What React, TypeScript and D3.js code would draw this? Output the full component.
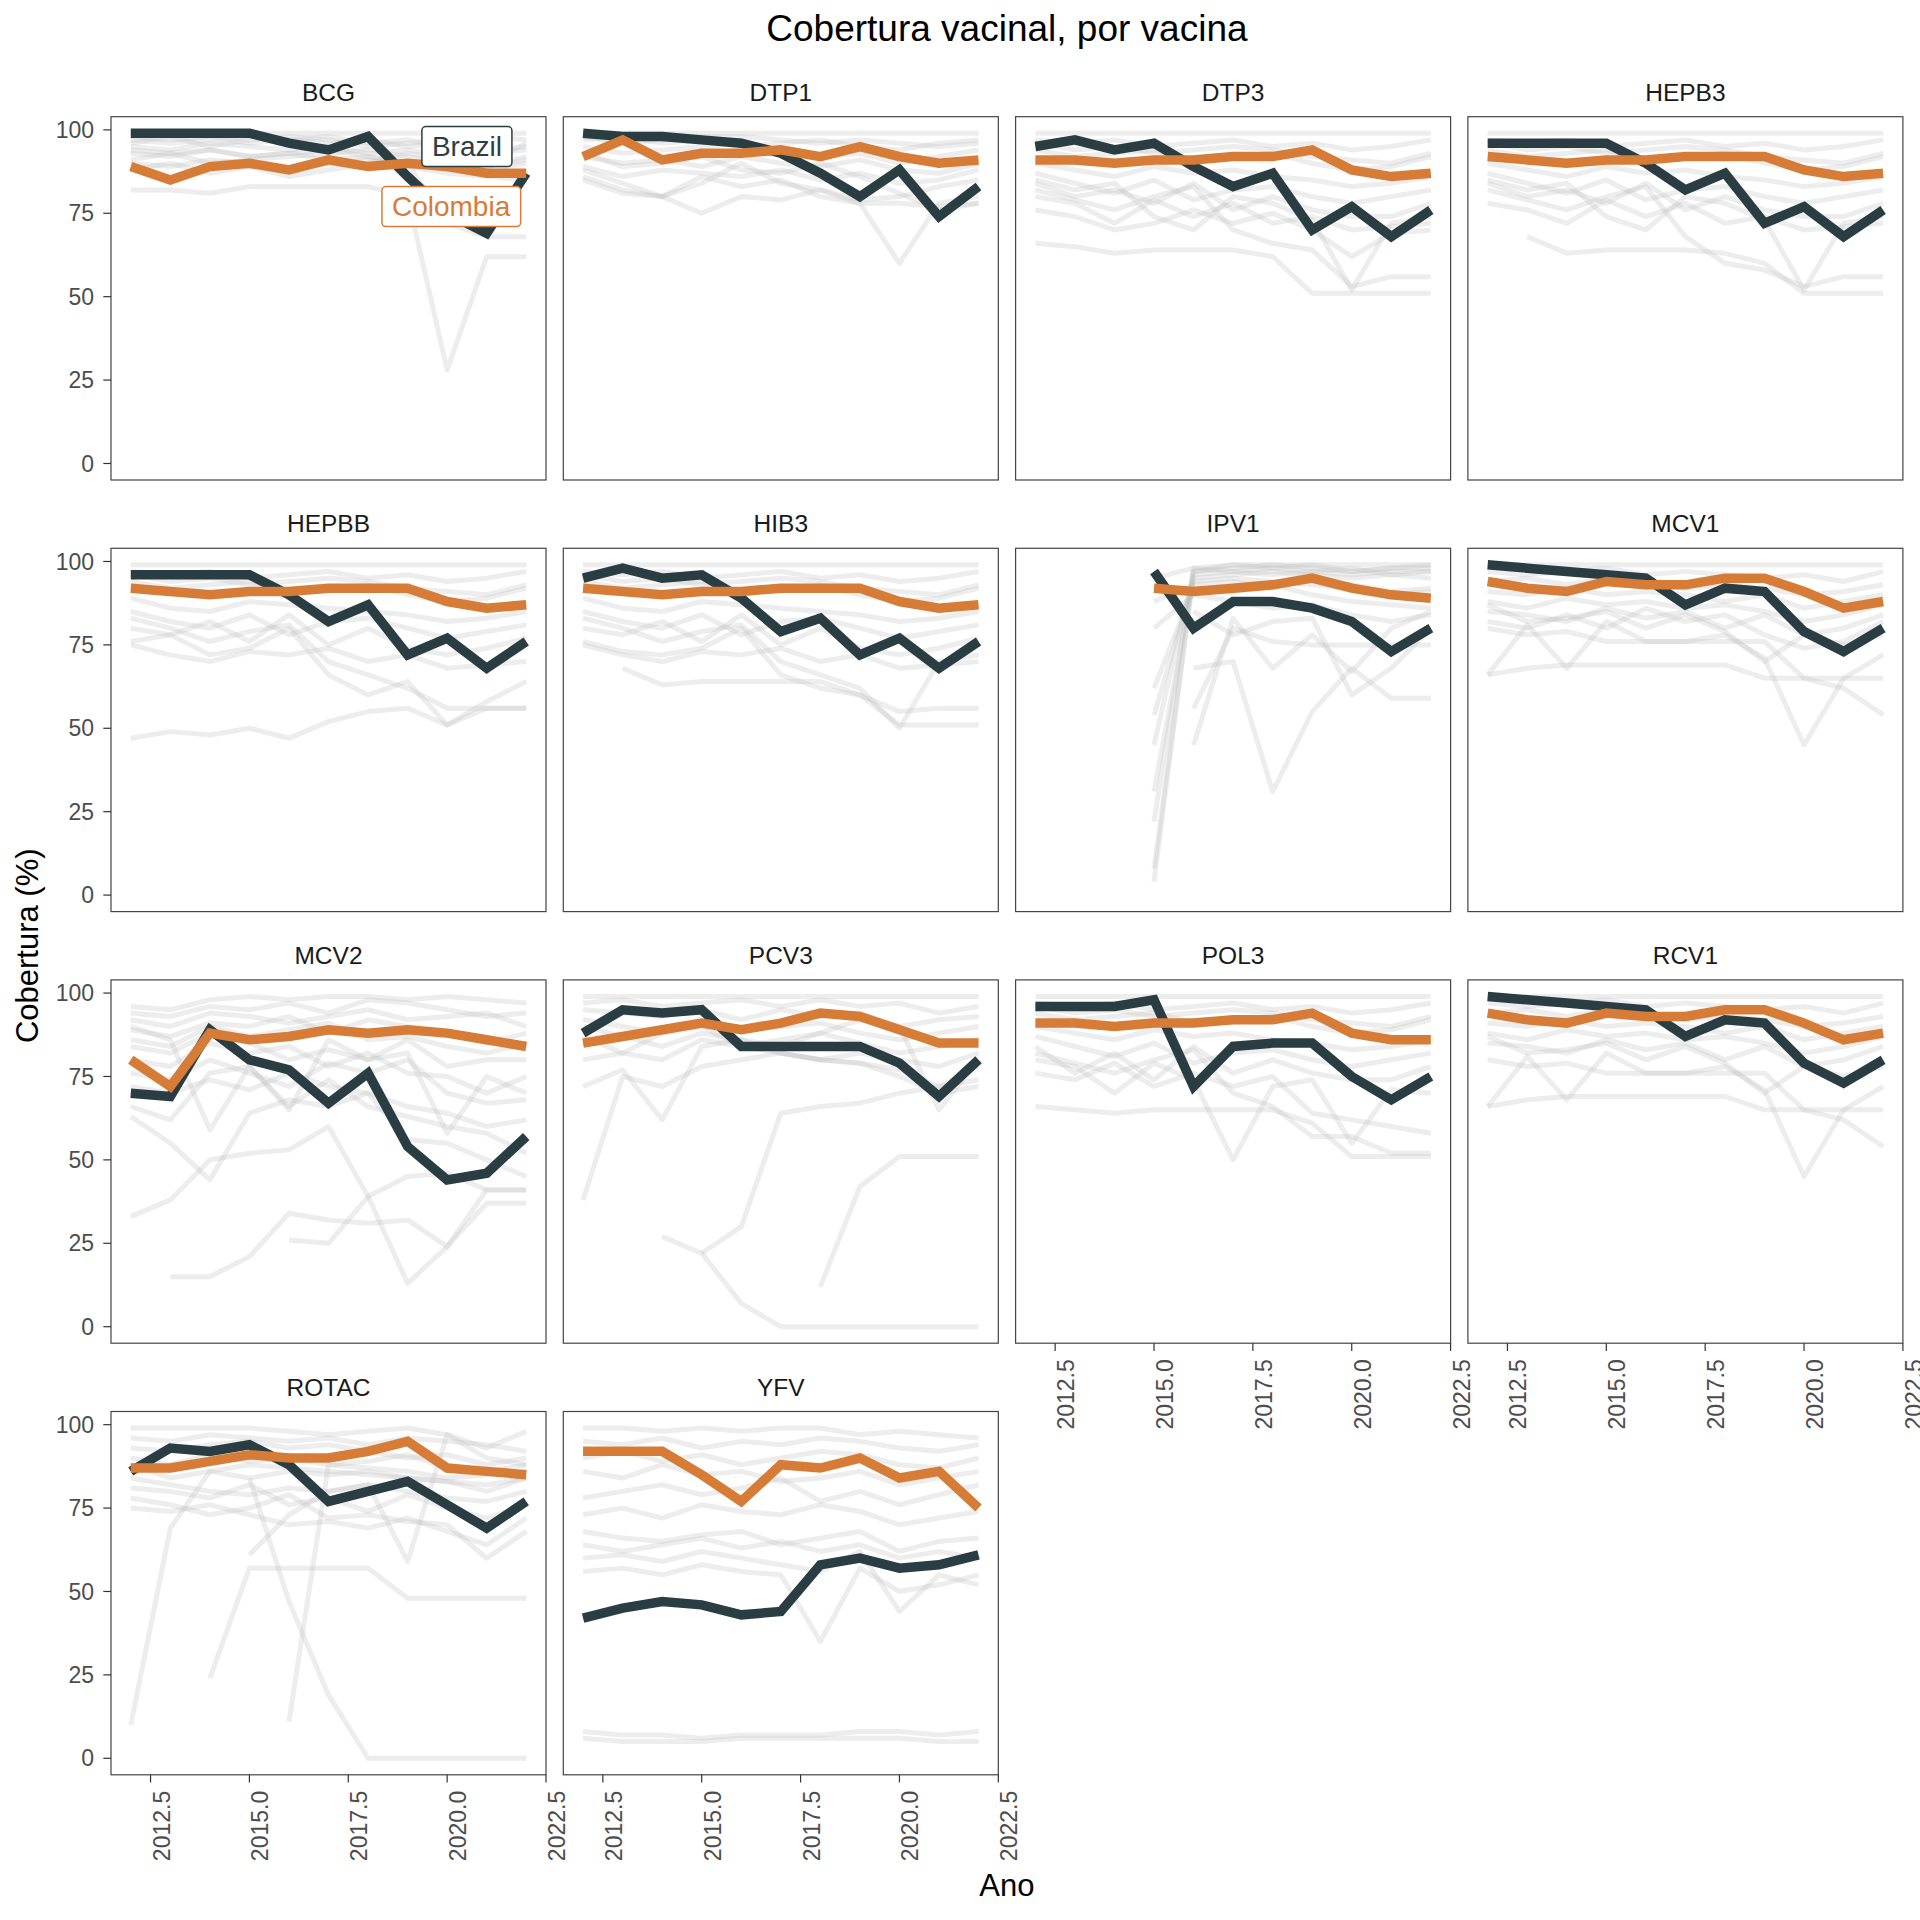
import React, { useEffect, useRef } from "react";
import * as d3 from "d3";

// anos e vacinas
const years = [2012, 2013, 2014, 2015, 2016, 2017, 2018, 2019, 2020, 2021, 2022];
const vaccines = ["BCG", "DTP1", "DTP3", "HEPB3", "HEPBB", "HIB3", "IPV1", "MCV1", "MCV2", "PCV3", "POL3", "RCV1", "ROTAC", "YFV"];
const yTicks = [0, 25, 50, 75, 100];
const xTicks = [2012.5, 2015.0, 2017.5, 2020.0, 2022.5];

// Brazil, same order as vaccines
const brazil: (number | null)[][] = [
  [99, 99, 99, 99, 96, 94, 98, 86, 75, 69, 87],
  [99, 98, 98, 97, 96, 93, 87, 80, 88, 74, 83],
  [95, 97, 94, 96, 89, 83, 87, 70, 77, 68, 76],
  [96, 96, 96, 96, 90, 82, 87, 72, 77, 68, 76],
  [96, 96, 96, 96, 90, 82, 87, 72, 77, 68, 76],
  [95, 98, 95, 96, 89, 79, 83, 72, 77, 68, 76],
  [null, null, null, 97, 80, 88, 88, 86, 82, 73, 80],
  [99, 98, 97, 96, 95, 87, 92, 91, 79, 73, 80],
  [70, 69, 89, 80, 77, 67, 76, 54, 44, 46, 57],
  [88, 95, 94, 95, 84, 84, 84, 84, 79, 69, 80],
  [96, 96, 96, 98, 72, 84, 85, 85, 75, 68, 75],
  [99, 98, 97, 96, 95, 87, 92, 91, 79, 73, 80],
  [86, 93, 92, 94, 88, 77, 80, 83, 76, 69, 77],
  [42, 45, 47, 46, 43, 44, 58, 60, 57, 58, 61],
];

// Colombia, same order as vaccines
const colombia: (number | null)[][] = [
  [89, 85, 89, 90, 88, 91, 89, 90, 89, 87, 87],
  [92, 97, 91, 93, 93, 94, 92, 95, 92, 90, 91],
  [91, 91, 90, 91, 91, 92, 92, 94, 88, 86, 87],
  [92, 91, 90, 91, 91, 92, 92, 92, 88, 86, 87],
  [92, 91, 90, 91, 91, 92, 92, 92, 88, 86, 87],
  [92, 91, 90, 91, 91, 92, 92, 92, 88, 86, 87],
  [null, null, null, 92, 91, 92, 93, 95, 92, 90, 89],
  [94, 92, 91, 94, 93, 93, 95, 95, 91, 86, 88],
  [80, 72, 88, 86, 87, 89, 88, 89, 88, 86, 84],
  [85, 87, 89, 91, 89, 91, 94, 93, 89, 85, 85],
  [91, 91, 90, 91, 91, 92, 92, 94, 88, 86, 86],
  [94, 92, 91, 94, 93, 93, 95, 95, 91, 86, 88],
  [87, 87, 89, 91, 90, 90, 92, 95, 87, 86, 85],
  [92, 92, 92, 85, 77, 88, 87, 90, 84, 86, 75],
];

// other countries (grey)
const greyBCG = [
  [99, 99, 99, 99, 99, 99, 99, 99, 99, 99, 99],
  [97, 96, 97, 98, 97, 96, 97, 95, 96, 93, 94],
  [95, 94, 96, 95, 94, 95, 93, 94, 92, 90, 96],
  [93, 92, 94, 92, 93, 91, 92, 90, 88, 89, 91],
  [91, 93, 90, 91, 92, 93, 94, 92, 90, 88, 90],
  [88, 90, 87, 89, 86, 88, 90, 93, 91, 89, 92],
  [96, 98, 95, 97, 98, 97, 95, 96, 97, 98, 97],
  [82, 82, 81, 83, 83, 83, 83, 80, 28, 62, 62],
  [94, 93, 94, 92, 93, 94, 92, 90, 72, 68, 68],
  [90, 89, 91, 90, 88, 90, 91, 89, 87, 86, 85],
  [98, 97, 98, 96, 97, 98, 96, 97, 95, 94, 95],
];
const greyDTP1 = [
  [99, 99, 99, 99, 99, 99, 99, 99, 99, 99, 99],
  [97, 98, 96, 97, 95, 96, 97, 95, 94, 96, 97],
  [95, 93, 94, 95, 96, 94, 92, 93, 90, 92, 94],
  [92, 90, 91, 89, 92, 90, 89, 91, 88, 87, 90],
  [89, 86, 88, 87, 86, 88, 85, 87, 84, 85, 88],
  [86, 82, 80, 84, 90, 84, 82, 79, 80, 83, 85],
  [85, 81, 80, 75, 80, 79, 82, 78, 60, 78, 80],
  [88, 84, 80, 86, 83, 85, 80, 78, 78, 77, 78],
  [93, 89, 90, 92, 88, 87, 90, 86, 81, 76, 78],
  [98, 96, 97, 98, 98, 97, 96, 97, 96, 95, 96],
];
const greyDTP3 = [
  [99, 99, 99, 99, 99, 99, 99, 99, 99, 99, 99],
  [97, 96, 97, 95, 96, 97, 95, 96, 94, 95, 97],
  [94, 92, 93, 94, 91, 92, 93, 90, 88, 89, 92],
  [90, 88, 86, 89, 87, 88, 86, 85, 83, 84, 86],
  [87, 84, 81, 85, 79, 82, 83, 80, 78, 80, 82],
  [84, 80, 82, 78, 84, 76, 80, 76, 74, 74, 78],
  [80, 78, 72, 79, 74, 78, 72, 74, 70, 71, 72],
  [76, 74, 70, 72, 76, 72, 75, 70, 62, 69, 70],
  [66, 65, 63, 64, 64, 64, 62, 51, 51, 51, 51],
  [82, 79, 76, 80, 83, 70, 66, 64, 53, 56, 56],
  [85, 82, 84, 74, 70, 80, 78, 73, 52, 72, 74],
  [96, 94, 95, 93, 94, 95, 94, 92, 91, 90, 93],
];
const greyHEPB3 = [
  [99, 99, 99, 99, 99, 99, 99, 99, 99, 99, 99],
  [97, 96, 97, 95, 96, 97, 95, 96, 94, 95, 97],
  [94, 92, 93, 94, 91, 92, 93, 90, 88, 89, 92],
  [90, 88, 86, 89, 87, 88, 86, 85, 83, 84, 86],
  [87, 84, 81, 85, 79, 82, 83, 80, 78, 80, 82],
  [84, 80, 82, 78, 84, 76, 80, 76, 74, 74, 78],
  [78, 76, 72, 79, 74, 78, 72, 74, 70, 71, 72],
  [null, 68, 63, 64, 64, 64, 63, 60, 51, 51, 51],
  [82, 79, 76, 80, 83, 68, 60, 58, 53, 56, 56],
  [85, 82, 84, 74, 70, 80, 78, 73, 52, 72, 74],
  [96, 94, 95, 93, 94, 95, 94, 92, 91, 90, 93],
];
const greyHEPBB = [
  [99, 99, 99, 99, 99, 99, 99, 99, 99, 99, 99],
  [97, 96, 97, 95, 96, 97, 95, 96, 94, 95, 97],
  [94, 92, 93, 94, 91, 92, 93, 90, 88, 89, 92],
  [89, 86, 85, 88, 87, 86, 85, 84, 82, 83, 85],
  [85, 82, 80, 84, 78, 82, 83, 80, 77, 79, 81],
  [80, 78, 82, 76, 84, 75, 80, 74, 72, 74, 77],
  [76, 78, 72, 74, 80, 66, 60, 64, 51, 58, 64],
  [75, 72, 70, 73, 72, 74, 70, 72, 68, 69, 70],
  [47, 49, 48, 50, 47, 52, 55, 56, 51, 56, 56],
  [83, 80, 76, 79, 81, 70, 66, 62, 56, 56, 56],
  [96, 94, 95, 93, 94, 95, 94, 92, 91, 90, 93],
];
const greyHIB3 = [
  [99, 99, 99, 99, 99, 99, 99, 99, 99, 99, 99],
  [97, 96, 97, 95, 96, 97, 95, 96, 94, 95, 97],
  [94, 92, 93, 94, 91, 92, 93, 90, 88, 89, 92],
  [89, 86, 85, 88, 87, 86, 85, 84, 82, 83, 85],
  [85, 82, 80, 84, 78, 82, 83, 80, 77, 79, 81],
  [80, 78, 82, 76, 84, 75, 80, 74, 72, 74, 77],
  [76, 73, 72, 74, 80, 66, 62, 60, 51, 51, 51],
  [75, 72, 70, 73, 72, 74, 70, 72, 68, 69, 70],
  [null, 68, 63, 64, 64, 64, 64, 60, 55, 56, 56],
  [83, 80, 76, 79, 81, 70, 66, 62, 50, 70, 72],
  [96, 94, 95, 93, 94, 95, 94, 92, 91, 90, 93],
];
const greyIPV1 = [
  [null, null, null, 4, 97, 98, 99, 98, 97, 98, 98],
  [null, null, null, 8, 96, 97, 98, 97, 96, 97, 97],
  [null, null, null, 22, 98, 97, 96, 97, 98, 96, 97],
  [null, null, null, 31, 95, 96, 97, 96, 95, 96, 95],
  [null, null, null, 45, 97, 99, 98, 99, 97, 98, 99],
  [null, null, null, 54, 94, 95, 94, 93, 92, 90, 91],
  [null, null, null, 62, 92, 91, 93, 90, 88, 87, 86],
  [null, null, null, 80, 90, 88, 86, 87, 84, 82, 84],
  [null, null, null, 88, 93, 94, 92, 95, 93, 91, 92],
  [null, null, null, 95, 98, 99, 99, 99, 99, 99, 99],
  [null, null, null, null, 68, 70, 31, 55, 68, 59, 59],
  [null, null, null, null, 45, 83, 68, 78, 67, 80, 85],
  [null, null, null, null, 56, 80, 76, 75, 75, 75, 75],
  [null, null, null, null, 85, 78, 82, 83, 60, 68, 80],
];
const greyMCV1 = [
  [99, 99, 99, 99, 99, 99, 99, 99, 99, 99, 99],
  [97, 96, 97, 98, 96, 97, 96, 95, 96, 94, 97],
  [94, 95, 93, 95, 94, 92, 93, 92, 90, 91, 93],
  [91, 90, 92, 90, 91, 90, 88, 90, 86, 88, 90],
  [88, 86, 89, 87, 88, 86, 87, 85, 82, 84, 87],
  [85, 84, 82, 86, 83, 85, 80, 84, 78, 80, 84],
  [82, 80, 84, 80, 86, 82, 84, 78, 74, 76, 82],
  [66, 68, 69, 69, 69, 69, 69, 65, 65, 65, 65],
  [66, 81, 68, 82, 76, 76, 76, 76, 65, 62, 54],
  [80, 78, 79, 76, 76, 76, 78, 71, 45, 65, 72],
  [87, 82, 83, 85, 80, 84, 79, 70, 78, 75, 78],
];
const greyMCV2 = [
  [96, 95, 98, 99, 98, 99, 99, 98, 99, 98, 97],
  [94, 93, 96, 95, 97, 94, 98, 97, 95, 93, 94],
  [92, 90, 94, 93, 91, 93, 95, 92, 93, 94, 90],
  [89, 87, 91, 90, 93, 88, 92, 90, 88, 85, 88],
  [86, 84, 90, 87, 89, 91, 86, 87, 84, 82, 85],
  [84, 82, 88, 85, 80, 83, 80, 86, 78, 80, 80],
  [80, 78, 85, 82, 84, 78, 82, 76, 75, 70, 75],
  [76, 74, 80, 76, 72, 79, 76, 80, 70, 67, 68],
  [72, 70, 74, 71, 76, 72, 70, 66, 64, 60, 62],
  [66, 62, 76, 78, 66, 74, 66, 63, 60, 58, 52],
  [63, 55, 44, 64, 68, 66, 70, 56, 55, 50, 45],
  [33, 38, 50, 52, 53, 60, 39, 13, 24, 41, 41],
  [null, 15, 15, 21, 34, 32, 31, 32, 24, 37, 37],
  [null, null, null, null, 26, 25, 39, 45, 46, 41, 41],
  [90, 86, 59, 78, 65, 86, 80, 82, 58, 75, 70],
];
const greyPCV3 = [
  [99, 99, 99, 99, 99, 99, 99, 99, 99, 99, 99],
  [97, 98, 96, 97, 98, 96, 98, 96, 97, 94, 96],
  [95, 94, 93, 95, 92, 95, 93, 94, 90, 92, 93],
  [92, 90, 88, 91, 89, 90, 91, 88, 86, 88, 90],
  [90, 87, 84, 88, 86, 84, 88, 85, 82, 84, 86],
  [87, 82, 80, 86, 84, 82, 80, 82, 80, 78, 82],
  [38, 75, 72, 78, 80, 82, 80, 79, 77, 72, 74],
  [72, 77, 62, 84, 86, 82, 80, 79, 75, 70, 72],
  [null, null, 27, 22, 7, 0, 0, 0, 0, 0, 0],
  [null, null, null, 22, 30, 64, 66, 67, 70, 72, 78],
  [null, null, null, null, null, null, 12, 42, 51, 51, 51],
  [80, 82, 88, 90, 84, 86, 88, 92, 90, 65, 80],
];
const greyPOL3 = [
  [99, 99, 99, 99, 99, 99, 99, 99, 99, 99, 99],
  [97, 96, 97, 95, 96, 97, 95, 96, 94, 95, 97],
  [94, 92, 93, 94, 91, 92, 93, 90, 88, 89, 92],
  [90, 88, 86, 89, 87, 88, 86, 85, 83, 84, 86],
  [87, 84, 81, 85, 79, 82, 83, 80, 78, 80, 82],
  [84, 76, 82, 74, 84, 76, 80, 76, 74, 74, 78],
  [80, 78, 70, 79, 74, 50, 72, 74, 55, 71, 70],
  [76, 74, 79, 72, 76, 72, 75, 64, 62, 60, 58],
  [66, 65, 64, 65, 65, 65, 65, 61, 51, 51, 51],
  [82, 79, 76, 80, 83, 70, 66, 57, 57, 52, 52],
  [96, 94, 95, 93, 94, 95, 94, 92, 91, 90, 93],
];
const greyRCV1 = [
  [99, 99, 99, 99, 99, 99, 99, 99, 99, 99, 99],
  [97, 96, 97, 98, 96, 97, 96, 95, 96, 94, 97],
  [94, 95, 93, 95, 94, 92, 93, 92, 90, 91, 93],
  [91, 90, 92, 90, 91, 90, 88, 90, 86, 88, 90],
  [88, 86, 89, 87, 88, 86, 87, 85, 82, 84, 87],
  [85, 84, 82, 86, 83, 85, 80, 84, 78, 80, 84],
  [66, 68, 69, 69, 69, 69, 69, 65, 65, 65, 65],
  [66, 81, 68, 82, 76, 76, 76, 76, 65, 62, 54],
  [80, 78, 79, 76, 76, 76, 78, 71, 45, 65, 72],
  [87, 82, 83, 85, 80, 84, 79, 70, 78, 75, 78],
];
const greyROTAC = [
  [99, 99, 99, 99, 98, 97, 98, 99, 97, 93, 98],
  [96, 95, 97, 96, 95, 96, 94, 96, 95, 94, 92],
  [93, 92, 94, 95, 93, 94, 92, 90, 91, 88, 90],
  [90, 88, 91, 89, 90, 88, 89, 91, 87, 86, 88],
  [88, 84, 86, 84, 86, 85, 86, 84, 83, 80, 84],
  [84, 82, 80, 79, 81, 80, 82, 80, 78, 77, 80],
  [81, 80, 78, 82, 76, 78, 74, 79, 75, 72, 76],
  [78, 76, 73, 75, 79, 72, 73, 71, 70, 60, 68],
  [75, 74, 76, 73, 70, 71, 69, 72, 68, 64, 72],
  [10, 69, 86, 88, 87, 86, 85, 84, 83, 82, 84],
  [null, null, 24, 57, 57, 57, 57, 48, 48, 48, 48],
  [null, null, null, 84, 47, 19, 0, 0, 0, 0, 0],
  [null, null, null, null, 11, 88, 87, 86, 84, 85, 86],
  [null, null, null, 61, 73, 80, 82, 59, 97, 90, 88],
];
const greyYFV = [
  [99, 99, 98, 99, 98, 99, 99, 97, 98, 97, 96],
  [95, 94, 96, 93, 95, 94, 96, 95, 93, 92, 94],
  [90, 92, 89, 91, 88, 90, 92, 91, 88, 87, 90],
  [86, 84, 88, 85, 86, 83, 84, 86, 82, 84, 86],
  [78, 80, 82, 79, 81, 84, 77, 80, 76, 79, 82],
  [73, 75, 72, 76, 74, 73, 76, 74, 70, 72, 74],
  [68, 66, 65, 67, 68, 64, 66, 68, 62, 65, 66],
  [64, 62, 64, 66, 63, 65, 62, 64, 60, 62, 60],
  [60, 61, 59, 62, 60, 58, 56, 62, 44, 55, 52],
  [56, 57, 55, 58, 56, 55, 35, 57, 50, 52, 55],
  [8, 7, 7, 6, 7, 7, 7, 8, 8, 7, 8],
  [6, 5, 5, 5, 6, 6, 6, 6, 6, 5, 5],
];
const others: (number | null)[][][] = [
  greyBCG, greyDTP1, greyDTP3, greyHEPB3, greyHEPBB, greyHIB3, greyIPV1,
  greyMCV1, greyMCV2, greyPCV3, greyPOL3, greyRCV1, greyROTAC, greyYFV,
];

// country labels in the first panel (data coordinates)
const labelNames = ["Brazil", "Colombia"];
const labelYears = [2020.5, 2020.1];
const labelValues = [95, 77];

const BRAZIL = "#2a3d43";
const COLOMBIA = "#d77c37";
const FONT = "'Liberation Sans', Arial, Helvetica, sans-serif";

const W = 1920;
const H = 1920;
const left = 111;
const top = 116.7;
const panelW = 435;
const panelH = 363.3;
const colStep = 452.3;
const rowStep = 431.6;
const ncol = 4;

const App = () => {
  const svgRef = useRef<SVGSVGElement>(null);

  useEffect(() => {
    const svg = d3.select(svgRef.current);
    svg.selectAll("*").remove();

    const x = d3.scaleLinear().domain([2011.5, 2022.5]).range([0, panelW]);
    const y = d3.scaleLinear().domain([-4.95, 103.95]).range([panelH, 0]);
    const fmt = d3.format(".1f");

    const line = d3
      .line<number | null>()
      .defined((d) => d !== null)
      .x((_, i) => x(years[i]))
      .y((d) => y(d as number));

    svg
      .append("rect")
      .attr("width", W)
      .attr("height", H)
      .attr("fill", "#ffffff");

    svg
      .append("text")
      .attr("x", left + (3 * colStep + panelW) / 2)
      .attr("y", 41)
      .attr("text-anchor", "middle")
      .attr("font-family", FONT)
      .attr("font-size", 37)
      .attr("fill", "#000")
      .text("Cobertura vacinal, por vacina");

    vaccines.forEach((vac, k) => {
      const col = k % ncol;
      const row = Math.floor(k / ncol);
      const g = svg
        .append("g")
        .attr("transform", `translate(${left + col * colStep},${top + row * rowStep})`);

      // strip
      g.append("text")
        .attr("x", panelW / 2)
        .attr("y", -16)
        .attr("text-anchor", "middle")
        .attr("font-family", FONT)
        .attr("font-size", 24.5)
        .attr("fill", "#1a1a1a")
        .text(vac);

      // lines
      const lines = g.append("g");
      others[k].forEach((serie) => {
        lines
          .append("path")
          .attr("d", line(serie))
          .attr("fill", "none")
          .attr("stroke", "#bdbdbd")
          .attr("stroke-opacity", 0.27)
          .attr("stroke-width", 5)
          .attr("stroke-linejoin", "round");
      });
      [brazil[k], colombia[k]].forEach((serie, j) => {
        lines
          .append("path")
          .attr("d", line(serie))
          .attr("fill", "none")
          .attr("stroke", j === 0 ? BRAZIL : COLOMBIA)
          .attr("stroke-width", 9.5)
          .attr("stroke-linejoin", "miter")
          .attr("stroke-linecap", "butt");
      });

      // panel border
      g.append("rect")
        .attr("width", panelW)
        .attr("height", panelH)
        .attr("fill", "none")
        .attr("stroke", "#444")
        .attr("stroke-width", 1.2);

      // y axis on first column
      if (col === 0) {
        yTicks.forEach((t) => {
          g.append("line")
            .attr("x1", -7.7)
            .attr("x2", 0)
            .attr("y1", y(t))
            .attr("y2", y(t))
            .attr("stroke", "#333")
            .attr("stroke-width", 1.2);
          g.append("text")
            .attr("x", -17)
            .attr("y", y(t))
            .attr("dy", "0.35em")
            .attr("text-anchor", "end")
            .attr("font-family", FONT)
            .attr("font-size", 23)
            .attr("fill", "#4d4d4d")
            .text(t);
        });
      }

      // x axis where no panel sits below
      if (k + ncol >= vaccines.length) {
        xTicks.forEach((t) => {
          g.append("line")
            .attr("x1", x(t))
            .attr("x2", x(t))
            .attr("y1", panelH)
            .attr("y2", panelH + 7.7)
            .attr("stroke", "#333")
            .attr("stroke-width", 1.2);
          g.append("text")
            .attr("transform", `translate(${x(t) + 19},${panelH + 16}) rotate(-90)`)
            .attr("text-anchor", "end")
            .attr("font-family", FONT)
            .attr("font-size", 23)
            .attr("fill", "#4d4d4d")
            .text(fmt(t));
        });
      }

      // country labels
      if (k === 0) {
        labelNames.forEach((name, j) => {
          const color = j === 0 ? BRAZIL : COLOMBIA;
          const lg = g
            .append("g")
            .attr("transform", `translate(${x(labelYears[j])},${y(labelValues[j])})`);
          const txt = lg
            .append("text")
            .attr("text-anchor", "middle")
            .attr("dy", "0.35em")
            .attr("font-family", FONT)
            .attr("font-size", 28)
            .attr("fill", color)
            .text(name);
          const bb = (txt.node() as SVGTextElement).getBBox();
          lg.insert("rect", "text")
            .attr("x", bb.x - 10)
            .attr("y", -20)
            .attr("width", bb.width + 20)
            .attr("height", 40)
            .attr("rx", 4)
            .attr("fill", "#fff")
            .attr("stroke", color)
            .attr("stroke-width", 1.5);
        });
      }
    });

    // axis titles
    svg
      .append("text")
      .attr("x", left + (3 * colStep + panelW) / 2)
      .attr("y", 1896)
      .attr("text-anchor", "middle")
      .attr("font-family", FONT)
      .attr("font-size", 31)
      .attr("fill", "#000")
      .text("Ano");

    svg
      .append("text")
      .attr("transform", `translate(38,${top + (3 * rowStep + panelH) / 2}) rotate(-90)`)
      .attr("text-anchor", "middle")
      .attr("font-family", FONT)
      .attr("font-size", 31)
      .attr("fill", "#000")
      .text("Cobertura (%)");
  }, []);

  return (
    <>
      <style>{"body{margin:0}"}</style>
      <svg ref={svgRef} width={W} height={H} style={{ display: "block" }} />
    </>
  );
};

export default App;
